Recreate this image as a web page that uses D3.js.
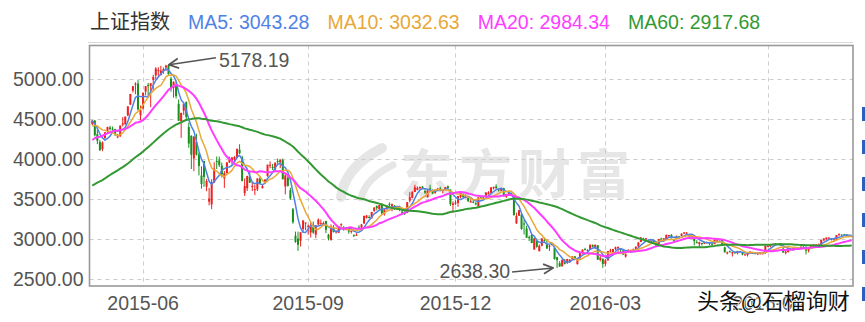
<!DOCTYPE html>
<html>
<head>
<meta charset="utf-8">
<script src="https://cdn.jsdelivr.net/npm/d3@7"></script>
<style>
  body { margin: 0; background: #fff; }
  svg { display: block; font-family: "Liberation Sans", Arial, sans-serif; }
</style>
</head>
<body>
<svg id="chart" width="865" height="322"></svg>
<script>
// trading days, one string per month
var months = ["2015-05","2015-06","2015-07","2015-08","2015-09","2015-10","2015-11","2015-12",
              "2016-01","2016-02","2016-03","2016-04","2016-05","2016-06","2016-07"];
var monthDays = [
  "4 5 6 7 8 11 12 13 14 15 18 19 20 21 22 25 26 27 28 29",
  "1 2 3 4 5 8 9 10 11 12 15 16 17 18 19 23 24 25 26 29 30",
  "1 2 3 6 7 8 9 10 13 14 15 16 17 20 21 22 23 24 27 28 29 30 31",
  "3 4 5 6 7 10 11 12 13 14 17 18 19 20 21 24 25 26 27 28 31",
  "1 2 7 8 9 10 11 14 15 16 17 18 21 22 23 24 25 28 29 30",
  "8 9 12 13 14 15 16 19 20 21 22 23 26 27 28 29 30",
  "2 3 4 5 6 9 10 11 12 13 16 17 18 19 20 23 24 25 26 27 30",
  "1 2 3 4 7 8 9 10 11 14 15 16 17 18 21 22 23 24 25 28 29 30 31",
  "4 5 6 7 8 11 12 13 14 15 18 19 20 21 22 25 26 27 28 29",
  "1 2 3 4 5 15 16 17 18 19 22 23 24 25 26 29",
  "1 2 3 4 7 8 9 10 11 14 15 16 17 18 21 22 23 24 25 28 29 30 31",
  "1 5 6 7 8 11 12 13 14 15 18 19 20 21 22 25 26 27 28 29",
  "3 4 5 6 9 10 11 12 13 16 17 18 19 20 23 24 25 26 27 30 31",
  "1 2 3 6 7 8 13 14 15 16 17 20 21 22 23 24 27 28 29 30",
  "1 4 5 6 7 8 11 12 13 14 15 18 19 20"
];

// closes before the first visible day (needed for the moving averages)
var preCloses = [
  3210,3128,3204,3175,3136,3076,3095,3142,3158,3174,3204,3247,3269,3229,3298,3310,
  3336,3263,3280,3248,3241,3302,3286,3290,3349,3372,3449,3503,3577,3582,3617,3688,3691,3661,3682,3691,3787,3748,
  3810,3825,3864,3961,3995,3958,4034,4122,4135,4085,4195,4287,4217,4294,4398,4415,4394,4527,4476,4477,4442
];

// [open, high, low, close]
var ohlc = [
  // 2015-05
  [4441,4488,4420,4480],[4479,4488,4282,4298],[4311,4386,4186,4229],[4214,4236,4099,4112],[4122,4220,4097,4206],
  [4261,4334,4254,4334],[4352,4402,4324,4401],[4393,4414,4356,4375],[4380,4406,4351,4378],[4372,4378,4286,4308],
  [4277,4314,4260,4283],[4285,4418,4276,4418],[4428,4523,4407,4446],[4434,4530,4430,4530],[4546,4658,4534,4658],
  [4681,4814,4675,4813],[4854,4911,4831,4911],[4939,4958,4809,4942],[4943,4986,4605,4620],[4547,4669,4483,4612],
  // 2015-06
  [4633,4829,4616,4829],[4844,4911,4797,4910],[4924,4951,4762,4910],[4912,4947,4647,4947],[4990,5052,4856,5023],
  [5046,5148,5000,5131],[5114,5147,5039,5114],[5049,5164,5044,5106],[5101,5143,5064,5121],[5144,5178.19,5100,5166],
  [5175,5176,5048,5062],[5004,5029,4842,4887],[4890,4968,4767,4967],[4930,4966,4757,4786],[4691,4744,4476,4478],
  [4471,4577,4264,4577],[4604,4691,4552,4691],[4711,4720,4483,4527],[4399,4456,4140,4193],[4289,4297,3875,4053],
  [4006,4287,3848,4277],
  // 2015-07
  [4214,4317,4043,4054],[4058,4080,3795,3913],[3793,3908,3629,3687],[3976,3976,3653,3776],[3654,3750,3598,3727],
  [3467,3638,3421,3507],[3432,3748,3373,3710],[3707,3960,3700,3878],[3975,4031,3875,3970],[3982,4030,3901,3924],
  [3917,3955,3769,3805],[3760,3849,3639,3823],[3822,3960,3822,3957],[3958,4030,3950,3992],[3972,4026,3929,4017],
  [3995,4036,3970,4026],[4011,4132,4011,4124],[4115,4184,4061,4071],[4021,4040,3721,3726],[3573,3757,3538,3663],
  [3634,3789,3600,3789],[3776,3838,3700,3705],[3650,3718,3599,3664],
  // 2015-08
  [3614,3675,3549,3623],[3621,3757,3600,3757],[3755,3782,3685,3695],[3636,3683,3632,3661],[3699,3746,3689,3744],
  [3786,3929,3779,3929],[3928,3970,3884,3928],[3901,3938,3864,3887],[3868,3955,3850,3955],[3975,4006,3928,3965],
  [3955,3994,3885,3994],[3986,4006,3743,3748],[3657,3811,3558,3794],[3767,3790,3655,3664],[3610,3640,3490,3507],
  [3373,3388,3191,3210],[3042,3092,2952,2965],[3005,3092,2851,2927],[2978,3084,2906,3084],[3125,3233,3085,3232],
  [3205,3207,3109,3206],
  // 2015-09
  [3157,3180,3054,3166],[3081,3214,3019,3160],[3150,3218,3066,3080],[3055,3172,3011,3170],[3183,3256,3170,3243],
  [3190,3243,3178,3198],[3196,3218,3173,3200],[3226,3226,3074,3115],[3053,3064,2983,3005],[2985,3182,2983,3153],
  [3142,3174,3081,3087],[3089,3111,3068,3097],[3078,3156,3076,3156],[3174,3197,3152,3186],[3135,3163,3104,3116],
  [3119,3150,3109,3143],[3140,3150,3066,3093],[3091,3104,3069,3101],[3052,3054,3025,3039],[3051,3073,3039,3053],
  // 2015-10
  [3144,3172,3124,3143],[3141,3184,3137,3183],[3193,3292,3193,3288],[3263,3300,3257,3293],[3275,3297,3257,3263],
  [3259,3339,3257,3338],[3352,3400,3339,3391],[3411,3421,3357,3387],[3375,3426,3364,3426],[3426,3448,3299,3321],
  [3310,3370,3292,3369],[3379,3416,3358,3413],[3440,3457,3405,3430],[3408,3443,3346,3434],[3415,3424,3362,3375],
  [3384,3410,3360,3387],[3384,3416,3348,3383],
  // 2015-11
  [3343,3382,3318,3326],[3326,3347,3300,3317],[3326,3461,3322,3460],[3479,3585,3457,3523],[3514,3596,3508,3590],
  [3588,3678,3586,3646],[3612,3658,3608,3640],[3634,3657,3616,3650],[3656,3662,3624,3632],[3600,3624,3564,3580],
  [3522,3607,3521,3607],[3632,3678,3594,3605],[3607,3620,3559,3568],[3577,3617,3565,3618],[3627,3640,3604,3630],
  [3631,3654,3597,3610],[3602,3618,3571,3616],[3614,3648,3607,3648],[3659,3669,3631,3636],[3616,3621,3412,3436],
  [3425,3470,3327,3445],
  // 2015-12
  [3442,3483,3426,3456],[3450,3538,3403,3537],[3525,3591,3510,3585],[3558,3568,3519,3525],[3519,3557,3507,3536],
  [3517,3517,3466,3470],[3456,3498,3456,3472],[3465,3489,3448,3456],[3446,3460,3422,3435],[3403,3521,3392,3521],
  [3520,3529,3500,3511],[3519,3532,3492,3516],[3542,3583,3542,3580],[3571,3597,3556,3578],[3577,3651,3566,3643],
  [3636,3653,3619,3652],[3656,3684,3626,3637],[3620,3627,3592,3613],[3603,3636,3601,3628],[3636,3641,3533,3534],
  [3528,3565,3514,3563],[3567,3574,3538,3573],[3571,3580,3538,3539],
  // 2016-01
  [3536,3538,3295,3297],[3196,3328,3189,3288],[3291,3362,3288,3361],[3309,3309,3115,3125],[3194,3236,3056,3186],
  [3131,3166,3016,3016],[3023,3042,2974,3022],[3050,3068,2949,2949],[2868,3012,2867,3008],[2983,3007,2891,2901],
  [2847,2933,2845,2913],[2916,3008,2908,3008],[2986,3016,2962,2976],[2934,2995,2880,2880],[2911,2926,2851,2916],
  [2932,2953,2917,2938],[2889,2889,2742,2750],[2772,2777,2638.3,2735],[2697,2723,2655,2655],[2658,2751,2658,2737],
  // 2016-02
  [2731,2751,2682,2689],[2701,2753,2688,2750],[2718,2749,2700,2740],[2750,2786,2739,2782],[2783,2786,2761,2763],
  [2685,2762,2682,2746],[2757,2840,2756,2837],[2830,2868,2813,2868],[2873,2890,2860,2863],[2853,2872,2840,2860],
  [2866,2933,2866,2927],[2924,2933,2895,2903],[2896,2929,2874,2929],[2922,2922,2740,2741],[2741,2786,2720,2767],
  [2754,2757,2639,2688],
  // 2016-03
  [2690,2750,2657,2733],[2732,2850,2732,2850],[2845,2878,2829,2859],[2824,2875,2794,2874],[2875,2904,2862,2897],
  [2893,2906,2826,2901],[2883,2886,2836,2863],[2855,2862,2804,2805],[2781,2822,2767,2810],[2835,2873,2835,2859],
  [2845,2864,2827,2864],[2864,2881,2852,2870],[2877,2906,2860,2904],[2907,2963,2897,2955],[2962,3022,2962,3018],
  [3006,3016,2986,2999],[3000,3011,2985,3009],[2987,2991,2954,2961],[2966,2983,2948,2979],[2989,2996,2949,2957],
  [2952,2963,2913,2920],[2935,3001,2935,3000],[3005,3018,2996,3004],
  // 2016-04
  [2989,3010,2964,3009],[2997,3053,2987,3053],[3048,3051,3026,3050],[3051,3061,3008,3009],[2992,3000,2953,2985],
  [3002,3044,3000,3034],[3032,3035,3007,3023],[3039,3072,3039,3066],[3069,3088,3063,3082],[3078,3087,3066,3078],
  [3046,3055,3023,3034],[3039,3056,3024,3043],[3043,3052,2920,2973],[2961,2985,2946,2953],[2936,2966,2897,2960],
  [2950,2952,2919,2947],[2941,2964,2937,2964],[2959,2968,2944,2954],[2952,2962,2923,2945],[2940,2947,2922,2938],
  // 2016-05
  [2937,2993,2935,2992],[2985,2998,2980,2991],[2989,3000,2980,2998],[2994,3000,2913,2914],[2896,2904,2832,2833],
  [2823,2842,2807,2833],[2846,2856,2834,2838],[2821,2837,2781,2836],[2834,2845,2815,2828],[2822,2851,2808,2851],
  [2846,2851,2832,2843],[2827,2832,2796,2807],[2798,2817,2795,2806],[2800,2829,2781,2825],[2822,2846,2819,2843],
  [2834,2839,2816,2821],[2823,2833,2809,2816],[2809,2826,2799,2822],[2818,2828,2808,2822],[2818,2830,2806,2823],
  [2822,2917,2817,2917],
  // 2016-06
  [2913,2926,2903,2914],[2907,2925,2895,2925],[2929,2945,2922,2939],[2941,2947,2921,2934],[2934,2943,2929,2937],
  [2930,2930,2918,2927],[2881,2885,2825,2834],[2826,2849,2807,2843],[2837,2889,2831,2887],[2878,2888,2862,2873],
  [2869,2896,2866,2885],[2893,2898,2873,2889],[2887,2894,2869,2879],[2883,2905,2878,2905],[2903,2910,2882,2892],
  [2899,2909,2807,2854],[2855,2896,2832,2896],[2896,2912,2882,2912],[2914,2935,2914,2932],[2929,2937,2915,2930],
  // 2016-07
  [2929,2944,2923,2933],[2920,2991,2919,2989],[2981,3007,2980,3007],[3000,3018,2989,3018],[3011,3024,3003,3017],
  [3012,3013,2982,2989],[2994,3008,2983,2995],[2993,3049,2988,3049],[3054,3070,3040,3061],[3055,3058,3042,3054],
  [3056,3064,3042,3055],[3048,3059,3037,3043],[3041,3043,3022,3029],[3031,3040,3024,3037]
];

var yTicks = [2500, 3000, 3500, 4000, 4500, 5000];
var xTickMonths = ["2015-06", "2015-09", "2015-12", "2016-03", "2016-06"];
var maPeriods = [5, 10, 20, 60];
var maColors = ["#5082e6", "#e8a838", "#ff3cff", "#339933"];
var maLegendValues = ["3043.28", "3032.63", "2984.34", "2917.68"];
var indexName = "上证指数";

var upColor = "#ee2020";
var downColor = "#18901c";
var gridColor = "#cccccc";
var labelColor = "#555555";

var margin = { left: 89.5, right: 853, top: 45.5, bottom: 286 };

var dates = [];
months.forEach(function(m, i) {
  monthDays[i].split(" ").forEach(function(d) {
    dates.push(m + "-" + (d.length < 2 ? "0" + d : d));
  });
});

var closes = preCloses.concat(ohlc.map(d => d[3]));
var offset = preCloses.length;

function movingAverage(period) {
  return ohlc.map(function(d, i) {
    var end = i + offset + 1;
    var start = end - period;
    if (start < 0) return null;
    return d3.mean(closes.slice(start, end));
  });
}

var svg = d3.select("#chart");

var x = d3.scaleBand()
  .domain(d3.range(ohlc.length))
  .range([91, 853]);

var y = d3.scaleLinear()
  .domain([2412.5, 5412.5])
  .range([margin.bottom, margin.top + 0.5]);

var cx = i => x(i) + x.bandwidth() / 2;

// watermark
var wm = svg.append("g").attr("fill", "#e6e6e6").attr("stroke", "#e6e6e6");
wm.append("path")
  .attr("d", "M341,197 Q345,167 382,148")
  .attr("fill", "none")
  .attr("stroke-width", 10)
  .attr("stroke-linecap", "round");
wm.append("path")
  .attr("d", "M361,198 Q366,178 393,165")
  .attr("fill", "none")
  .attr("stroke-width", 7)
  .attr("stroke-linecap", "round");
wm.append("text")
  .attr("x", 400)
  .attr("y", 194)
  .attr("stroke", "none")
  .attr("font-family", "'Noto Sans CJK SC', sans-serif")
  .attr("font-weight", "bold")
  .attr("font-size", 53)
  .attr("letter-spacing", 6)
  .text("东方财富");

// grid
var grid = svg.append("g")
  .attr("stroke", gridColor)
  .attr("stroke-dasharray", "4,4")
  .attr("stroke-width", 1);

grid.selectAll(".hgrid")
  .data(yTicks)
  .enter()
  .append("line")
  .attr("x1", margin.left)
  .attr("x2", margin.right)
  .attr("y1", d => Math.round(y(d)) + 0.5)
  .attr("y2", d => Math.round(y(d)) + 0.5);

var xTickIndex = xTickMonths.map(m => dates.findIndex(d => d.slice(0, 7) === m));

grid.selectAll(".vgrid")
  .data(xTickIndex)
  .enter()
  .append("line")
  .attr("x1", d => Math.round(cx(d)) + 0.5)
  .attr("x2", d => Math.round(cx(d)) + 0.5)
  .attr("y1", margin.top)
  .attr("y2", margin.bottom);

// plot clip
svg.append("clipPath")
  .attr("id", "plotClip")
  .append("rect")
  .attr("x", margin.left)
  .attr("y", margin.top)
  .attr("width", margin.right - margin.left)
  .attr("height", margin.bottom - margin.top);

var plot = svg.append("g").attr("clip-path", "url(#plotClip)");

// candles
var candles = plot.selectAll(".candle")
  .data(ohlc)
  .enter()
  .append("g")
  .attr("class", "candle")
  .attr("fill", d => d[3] >= d[0] ? upColor : downColor)
  .attr("stroke", d => d[3] >= d[0] ? upColor : downColor);

candles.append("line")
  .attr("x1", (d, i) => cx(i))
  .attr("x2", (d, i) => cx(i))
  .attr("y1", d => y(d[1]))
  .attr("y2", d => y(d[2]))
  .attr("stroke-width", 1);

candles.append("rect")
  .attr("stroke", "none")
  .attr("x", (d, i) => cx(i) - 1)
  .attr("width", 2)
  .attr("y", d => y(Math.max(d[0], d[3])))
  .attr("height", d => Math.max(1, Math.abs(y(d[0]) - y(d[3]))));

// moving averages
maPeriods.forEach(function(p, k) {
  var ma = movingAverage(p);
  var line = d3.line()
    .defined(d => d !== null)
    .x((d, i) => cx(i))
    .y(d => y(d));
  plot.append("path")
    .datum(ma)
    .attr("fill", "none")
    .attr("stroke", maColors[k])
    .attr("stroke-width", p >= 20 ? 2 : 1.5)
    .attr("stroke-linejoin", "round")
    .attr("d", line);
});

// frame
svg.append("rect")
  .attr("x", margin.left)
  .attr("y", margin.top)
  .attr("width", margin.right - margin.left)
  .attr("height", margin.bottom - margin.top)
  .attr("fill", "none")
  .attr("stroke", "#999")
  .attr("stroke-width", 1.6);

// axes
var yAxis = svg.append("g")
  .attr("transform", `translate(${margin.left},0)`)
  .call(d3.axisLeft(y).tickValues(yTicks).tickFormat(d3.format(".2f")).tickSize(0).tickPadding(6));
yAxis.select(".domain").remove();
yAxis.selectAll("text")
  .attr("font-size", 19.5)
  .attr("font-family", "'Liberation Sans', Arial, sans-serif")
  .attr("fill", labelColor);

var xAxis = svg.append("g")
  .attr("transform", `translate(0,${margin.bottom})`)
  .call(d3.axisBottom(x).tickValues(xTickIndex).tickFormat(i => dates[i].slice(0, 7)).tickSize(0).tickPadding(10));
xAxis.select(".domain").remove();
xAxis.selectAll("text")
  .attr("font-size", 19.5)
  .attr("font-family", "'Liberation Sans', Arial, sans-serif")
  .attr("fill", labelColor);

// legend
svg.append("line")
  .attr("x1", 88)
  .attr("x2", 853)
  .attr("y1", 42.5)
  .attr("y2", 42.5)
  .attr("stroke", "#d8d8d8");

var legendItems = [{ text: indexName, color: "#333" }].concat(
  maPeriods.map((p, k) => ({ text: "MA" + p + ": " + maLegendValues[k], color: maColors[k] }))
);
var lx = 90;
legendItems.forEach(function(item, k) {
  var t = svg.append("text")
    .attr("x", lx)
    .attr("y", 29)
    .attr("font-size", k === 0 ? 20 : 19.5)
    .attr("font-family", k === 0 ? "'Noto Sans CJK SC', sans-serif" : "'Liberation Sans', Arial, sans-serif")
    .attr("fill", item.color)
    .text(item.text);
  lx += t.node().getComputedTextLength() + 18;
});

// high / low annotations
svg.append("defs").append("marker")
  .attr("id", "arrow")
  .attr("viewBox", "0 0 10 10")
  .attr("refX", 9)
  .attr("refY", 5)
  .attr("markerWidth", 8)
  .attr("markerHeight", 8)
  .attr("orient", "auto")
  .append("path")
  .attr("d", "M1,1 L9,5 L1,9")
  .attr("fill", "none")
  .attr("stroke", "#555")
  .attr("stroke-width", 1.5);

var hiIdx = d3.maxIndex(ohlc, d => d[1]);
var loIdx = d3.minIndex(ohlc, d => d[2]);
var notes = [
  { i: hiIdx, v: ohlc[hiIdx][1], fromDx: 50, fromDy: -7, tipDx: 3, tipDy: 0, tx: 53, ty: 2, anchor: "start" },
  { i: loIdx, v: ohlc[loIdx][2], fromDx: -45, fromDy: 4, tipDx: -4, tipDy: 0, tx: -47, ty: 10, anchor: "end" }
];
notes.forEach(function(n) {
  var px = cx(n.i), py = y(n.v);
  svg.append("line")
    .attr("x1", px + n.fromDx)
    .attr("y1", py + n.fromDy)
    .attr("x2", px + n.tipDx)
    .attr("y2", py + n.tipDy)
    .attr("stroke", "#555")
    .attr("stroke-width", 1.5)
    .attr("marker-end", "url(#arrow)");
  svg.append("text")
    .attr("x", px + n.tx)
    .attr("y", py + n.ty)
    .attr("text-anchor", n.anchor)
    .attr("font-size", 19.5)
    .attr("fill", labelColor)
    .text(d3.format(".2f")(n.v));
});

// side toolbar marks
[107, 140, 177, 213, 250, 287].forEach(function(ty) {
  svg.append("rect")
    .attr("x", 862)
    .attr("y", ty)
    .attr("width", 3)
    .attr("height", 14)
    .attr("fill", "#2c5fbf");
});

// bottom-right watermark, drawn over the last month label as in the source
svg.append("text")
  .attr("x", 697)
  .attr("y", 309)
  .attr("font-family", "'Noto Sans CJK SC', sans-serif")
  .attr("font-size", 22)
  .attr("fill", "#111")
  .attr("stroke", "#fff")
  .attr("stroke-width", 1.5)
  .attr("paint-order", "stroke")
  .text("头条@石榴询财");
</script>
</body>
</html>
